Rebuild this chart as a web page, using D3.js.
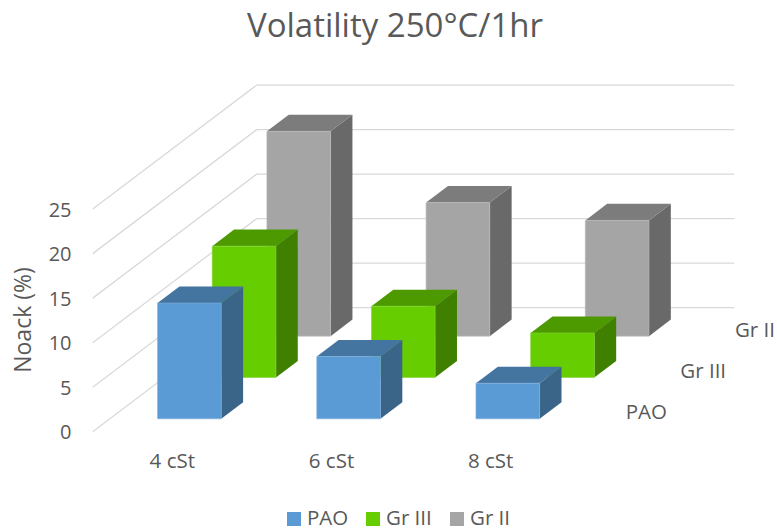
<!DOCTYPE html>
<html>
<head>
<meta charset="utf-8">
<script src="https://cdn.jsdelivr.net/npm/d3@7/dist/d3.min.js"></script>
<style>
body { margin: 0; background: #fff; }
text { font-family: "Open Sans", sans-serif; fill: #595959; }
</style>
</head>
<body>
<script>
const width = 777;
const height = 528;

var categories = ["4 cSt", "6 cSt", "8 cSt"];
var seriesNames = ["PAO", "Gr III", "Gr II"];
var paoValues = [13, 7, 4];
var gr3Values = [14.75, 8, 5];
var gr2Values = [23, 15, 13];
var valueTicks = [0, 5, 10, 15, 20, 25];

var seriesValues = [paoValues, gr3Values, gr2Values];
var frontColors = ["#5b9bd5", "#65cd00", "#a5a5a5"];
var topColors = ["#4474a0", "#4c9900", "#7c7c7c"];
var sideColors = ["#3a6488", "#408000", "#696969"];
var edgeColors = ["#7cafde", "#84d633", "#b8b8b8"];

var svg = d3.select("body")
 .append("svg")
 .style("display", "block")
 .attr("width", width)
 .attr("height", height);

// floor runs from the front left corner, depth goes up and to the right
const floorLeft = 92.7;
const floorFront = 431.7;
const floorWidth = 477.6;
const depthX = 164;
const depthY = 124;

var xscale = d3.scaleBand()
 .domain(categories)
 .range([0, floorWidth])
 .paddingInner(0.6)
 .paddingOuter(0.3);

var yscale = d3.scaleLinear()
 .domain([0, 25])
 .range([floorFront, floorFront - 222.6]);

var zscale = d3.scaleBand()
 .domain(seriesNames)
 .range([0, 1])
 .paddingInner(0.6)
 .paddingOuter(0.3);

function px(x, z) { return floorLeft + x + z * depthX; }
function py(v, z) { return yscale(v) - z * depthY; }

// x is in floor units, z in depth fraction
function face(points) {
 return d3.line()(points.map(function(p) { return [px(p[0], p[1]), py(p[2], p[1])]; }));
}

//Gridlines: side wall then back wall

var grid = svg.append("g");
valueTicks.forEach(function(v) {
 grid.append("path")
  .attr("d", face([[0, 0, v], [0, 1, v], [floorWidth, 1, v]]))
  .attr("fill", "none")
  .attr("stroke", "#d9d9d9")
  .attr("stroke-width", 1.3);
});

//Bars, back series first so the front ones cover them

var bars = svg.append("g")
 .attr("transform", "translate(0.7, -0.5)");

d3.range(seriesNames.length - 1, -1, -1).forEach(function(s) {
 var z0 = zscale(seriesNames[s]);
 var z1 = z0 + zscale.bandwidth();
 categories.forEach(function(c, i) {
  var x0 = xscale(c);
  var x1 = x0 + xscale.bandwidth();
  var v = seriesValues[s][i];
  var bar = bars.append("g");
  bar.append("path")
   .attr("d", face([[x1, z0, 0], [x1, z1, 0], [x1, z1, v], [x1, z0, v]]) + "Z")
   .attr("fill", sideColors[s]);
  bar.append("path")
   .attr("d", face([[x0, z0, v], [x1, z0, v], [x1, z1, v], [x0, z1, v]]) + "Z")
   .attr("fill", topColors[s]);
  bar.append("path")
   .attr("d", face([[x0, z0, 0], [x1, z0, 0], [x1, z0, v], [x0, z0, v]]) + "Z")
   .attr("fill", frontColors[s])
   .attr("stroke", edgeColors[s])
   .attr("stroke-width", 0.6);
 });
});

//Value axis, category axis, depth labels

var y_axis = d3.axisLeft()
 .scale(yscale)
 .tickValues(valueTicks)
 .tickSize(0)
 .tickPadding(0);
var yAxisG = svg.append("g")
 .attr("transform", "translate(71.5, 0.5)")
 .call(y_axis);
yAxisG.select(".domain").remove();
yAxisG.selectAll("text").style("font-size", "20px");
yAxisG.attr("font-family", null);

var x_axis = d3.axisBottom()
 .scale(xscale)
 .tickSize(0)
 .tickPadding(0);
var xAxisG = svg.append("g")
 .attr("transform", "translate(" + floorLeft + ", 453)")
 .call(x_axis);
xAxisG.select(".domain").remove();
xAxisG.selectAll("text").style("font-size", "20.5px");
xAxisG.attr("font-family", null);

seriesNames.forEach(function(name) {
 var zmid = zscale(name) + zscale.bandwidth() / 2;
 svg.append("text")
  .attr("x", px(floorWidth, zmid) + 28)
  .attr("y", py(0, zmid) + 1)
  .attr("dy", "0.35em")
  .style("font-size", "20.5px")
  .text(name);
});

//Axis title and chart title

svg.append("text")
 .attr("transform", "translate(31, 320) rotate(-90)")
 .attr("text-anchor", "middle")
 .style("font-size", "23px")
 .text("Noack (%)");

svg.append("text")
 .attr("x", 395)
 .attr("y", 37)
 .attr("text-anchor", "middle")
 .style("font-size", "33px")
 .text("Volatility 250°C/1hr");

//Legend

var legendSquare = [287, 366, 450];
var legendText = [307, 386, 470];
seriesNames.forEach(function(name, i) {
 svg.append("rect")
  .attr("x", legendSquare[i])
  .attr("y", 512)
  .attr("width", 14)
  .attr("height", 14)
  .attr("fill", frontColors[i]);
 svg.append("text")
  .attr("x", legendText[i])
  .attr("y", 525)
  .style("font-size", "20.5px")
  .text(name);
});
</script>
</body>
</html>
